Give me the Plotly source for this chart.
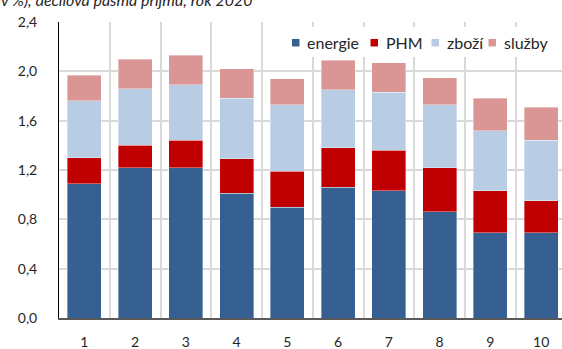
import plotly.graph_objects as go

# Decilová pásma příjmů
deciles = ["1", "2", "3", "4", "5", "6", "7", "8", "9", "10"]

# Podíly jednotlivých složek (v %)
energie = [1.09, 1.22, 1.22, 1.01, 0.90, 1.06, 1.03, 0.86, 0.69, 0.69]
phm = [0.21, 0.18, 0.22, 0.28, 0.29, 0.32, 0.33, 0.36, 0.34, 0.26]
zbozi = [0.46, 0.46, 0.45, 0.49, 0.54, 0.47, 0.47, 0.51, 0.49, 0.49]
sluzby = [0.21, 0.24, 0.24, 0.24, 0.21, 0.24, 0.24, 0.22, 0.26, 0.27]

series_names = ["energie", "PHM", "zboží", "služby"]
series_values = [energie, phm, zbozi, sluzby]
series_colors = ["#366092", "#c00000", "#b8cce4", "#da9694"]

y_ticks = [0, 0.4, 0.8, 1.2, 1.6, 2.0, 2.4]

W, H = 562, 349
ML, MR, MT, MB = 59, 0, 22, 31
PW, PH = W - ML - MR, H - MT - MB


def px_x(px):
    return (px - ML) / PW


def px_y(py):
    return (H - MB - py) / PH


FONT = "Lato, 'Open Sans', sans-serif"
TEXT_COLOR = "#262626"

fig = go.Figure()
for name, vals, color in zip(series_names, series_values, series_colors):
    fig.add_trace(go.Bar(
        x=deciles, y=vals, name=name,
        marker=dict(color=color, line=dict(color="rgba(255,255,255,0.45)", width=0.8)),
    ))

# Legenda: barevné čtverečky a popisky v pravém horním rohu
shapes = [dict(type="rect", xref="paper", yref="paper",
               x0=px_x(286), x1=px_x(562), y0=px_y(57), y1=px_y(27),
               fillcolor="white", line=dict(width=0), layer="above")]
annotations = []
legend_sq_left = [292, 370.5, 431.5, 488.5]
SQ = 7.5
LEG_CY = 42.7
for name, color, sx in zip(series_names, series_colors, legend_sq_left):
    shapes.append(dict(type="rect", xref="paper", yref="paper",
                       x0=px_x(sx), x1=px_x(sx + SQ),
                       y0=px_y(LEG_CY + SQ / 2), y1=px_y(LEG_CY - SQ / 2),
                       fillcolor=color, line=dict(width=0), layer="above"))
    annotations.append(dict(text=name, xref="paper", yref="paper",
                            x=px_x(sx + SQ + 5.5), y=px_y(LEG_CY),
                            xanchor="left", yanchor="middle", showarrow=False,
                            font=dict(family=FONT, size=16, color=TEXT_COLOR)))

# Nadpis (zčásti mimo horní okraj)
annotations.append(dict(text="v %), decilová pásma příjmů, rok 2020",
                        xref="paper", yref="paper",
                        x=px_x(-1), y=px_y(-1), xanchor="left", yanchor="middle",
                        showarrow=False,
                        font=dict(family=FONT, size=16, color=TEXT_COLOR, style="italic")))

fig.update_layout(
    width=W, height=H,
    margin=dict(l=ML, r=MR, t=MT, b=MB, pad=0),
    barmode="stack", bargap=0.33,
    plot_bgcolor="white", paper_bgcolor="white",
    showlegend=False,
    separators=", ",
    font=dict(family=FONT, size=14, color=TEXT_COLOR),
    shapes=shapes, annotations=annotations,
    xaxis=dict(
        type="category", range=[-0.5, 9.41],
        tickson="boundaries", ticks="", showgrid=True,
        gridcolor="#d9d9d9", gridwidth=1.5,
        showline=True, linecolor="#595959", linewidth=1.5,
        tickfont=dict(family=FONT, size=14, color=TEXT_COLOR),
        ticklabelstandoff=10, fixedrange=True,
    ),
    yaxis=dict(
        range=[0, 2.4], tickvals=y_ticks, tickformat=".1f",
        showgrid=True, gridcolor="#d9d9d9", gridwidth=1.5,
        zeroline=False,
        showline=True, linecolor="#000000", linewidth=1,
        ticks="", tickfont=dict(family=FONT, size=14, color=TEXT_COLOR),
        ticklabelstandoff=18, fixedrange=True,
    ),
)

fig.write_html("out.html")
